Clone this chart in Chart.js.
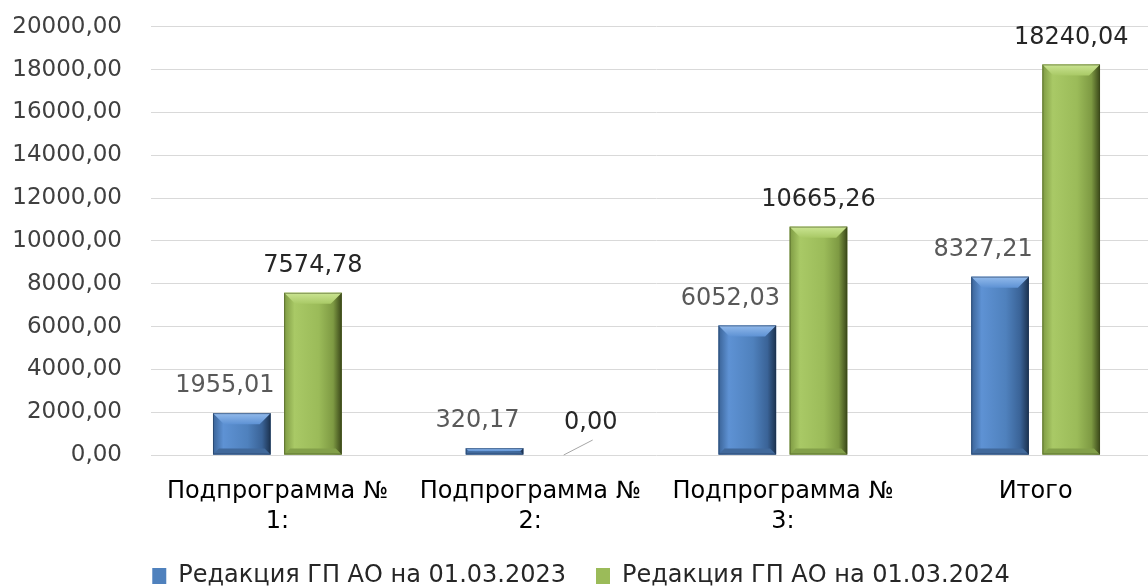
<!DOCTYPE html>
<html>
<head>
<meta charset="utf-8">
<script src="https://cdn.jsdelivr.net/npm/chart.js@4.4.1/dist/chart.umd.min.js"></script>
<style>
  html, body { margin: 0; padding: 0; overflow: hidden; background: #fff; }
  #wrap { width: 1162px; height: 614px; margin-top: -16px; }
</style>
</head>
<body>
<div id="wrap"><canvas id="myChart" width="1162" height="614"></canvas></div>
<script>
const categories = [['Подпрограмма №', '1:'], ['Подпрограмма №', '2:'], ['Подпрограмма №', '3:'], 'Итого'];
const seriesNames = ['Редакция ГП АО на 01.03.2023', 'Редакция ГП АО на 01.03.2024'];
const values2023 = [1955.01, 320.17, 6052.03, 8327.21];
const values2024 = [7574.78, 0.00, 10665.26, 18240.04];
const yMax = 20000;
const yStep = 2000;

const fmt = v => v.toFixed(2).replace('.', ',');

// цвета для "объёмных" столбиков
const palettes = [
    { face: '#4f81bd', light: '#5e92d4', edge: '#3a6397', dark: '#1c324f', top: '#93bbec', bottom: '#41699b' },
    { face: '#9bbb59', light: '#a9c966', edge: '#7e9a43', dark: '#3a4719', top: '#cbe593', bottom: '#83a04a' }
];
const labelColors = ['#595959', '#262626'];
const labelShift = [-17, 0];

const bevelPlugin = {
    id: 'bevel',
    afterDatasetsDraw(chart) {
        const ctx = chart.ctx;
        chart.data.datasets.forEach((ds, di) => {
            const pal = palettes[di];
            chart.getDatasetMeta(di).data.forEach(bar => {
                const { x, y, base, width } = bar.getProps(['x', 'y', 'base', 'width'], true);
                const h = base - y;
                if (h < 1) return;
                const l = x - width / 2, r = x + width / 2;
                const b = Math.min(11, h / 2);
                const bb = Math.min(6, h / 2);
                ctx.save();
                const g = ctx.createLinearGradient(l, 0, r, 0);
                g.addColorStop(0, pal.edge);
                g.addColorStop(0.18, pal.light);
                g.addColorStop(0.6, pal.face);
                g.addColorStop(0.85, pal.edge);
                g.addColorStop(1, pal.dark);
                ctx.fillStyle = g;
                ctx.fillRect(l, y, width, h);

                // верхняя фаска
                const gt = ctx.createLinearGradient(0, y, 0, y + b);
                gt.addColorStop(0, pal.top);
                gt.addColorStop(1, pal.light);
                ctx.fillStyle = gt;
                ctx.beginPath();
                ctx.moveTo(l, y); ctx.lineTo(r, y); ctx.lineTo(r - b, y + b); ctx.lineTo(l + b, y + b);
                ctx.closePath(); ctx.fill();

                // нижняя фаска
                ctx.fillStyle = pal.bottom;
                ctx.beginPath();
                ctx.moveTo(l, base); ctx.lineTo(r, base); ctx.lineTo(r - bb, base - bb); ctx.lineTo(l + bb, base - bb);
                ctx.closePath(); ctx.fill();

                ctx.strokeStyle = pal.dark;
                ctx.globalAlpha = 0.5;
                ctx.lineWidth = 1;
                ctx.strokeRect(l + 0.5, y + 0.5, width - 1, h - 1);
                ctx.restore();
            });
        });
    }
};

const valueLabels = {
    id: 'valueLabels',
    afterDatasetsDraw(chart) {
        const ctx = chart.ctx;
        ctx.save();
        ctx.font = '24px "DejaVu Sans"';
        ctx.textAlign = 'center';
        ctx.textBaseline = 'middle';
        chart.data.datasets.forEach((ds, di) => {
            chart.getDatasetMeta(di).data.forEach((bar, i) => {
                const v = ds.data[i];
                const { x, y, base } = bar.getProps(['x', 'y', 'base'], true);
                ctx.fillStyle = labelColors[di];
                if (v === 0) {
                    ctx.strokeStyle = '#a6a6a6';
                    ctx.lineWidth = 1;
                    ctx.beginPath();
                    ctx.moveTo(x - 2, base);
                    ctx.lineTo(x + 27, base - 15);
                    ctx.stroke();
                    ctx.fillText(fmt(v), x + 25, base - 32);
                } else {
                    ctx.fillText(fmt(v), x + labelShift[di], y - 27);
                }
            });
        });
        ctx.restore();
    }
};

const ctx = document.getElementById('myChart').getContext('2d');
new Chart(ctx, {
    type: 'bar',
    data: {
        labels: categories,
        datasets: [
            { label: seriesNames[0], data: values2023, backgroundColor: '#4f81bd', borderWidth: 0 },
            { label: seriesNames[1], data: values2024, backgroundColor: '#9bbb59', borderWidth: 0 }
        ]
    },
    options: {
        responsive: false,
        animation: false,
        devicePixelRatio: 1,
        categoryPercentage: 0.563,
        barPercentage: 0.81,
        layout: { padding: { top: 10, right: 0, left: 0, bottom: 0 } },
        plugins: {
            legend: {
                position: 'bottom',
                labels: {
                    boxWidth: 14,
                    boxHeight: 16,
                    padding: 30,
                    color: '#262626',
                    font: { family: '"DejaVu Sans"', size: 24 }
                }
            },
            tooltip: { enabled: false }
        },
        scales: {
            x: {
                grid: { display: false },
                border: { display: false },
                ticks: {
                    color: '#000000',
                    padding: 14,
                    maxRotation: 0,
                    autoSkip: false,
                    font: { family: '"DejaVu Sans"', size: 24, lineHeight: 1.25 }
                },
                afterFit(scale) { scale.height = 79; }
            },
            y: {
                min: 0,
                max: yMax,
                grid: { color: '#d9d9d9', drawTicks: false },
                border: { display: false },
                ticks: {
                    stepSize: yStep,
                    padding: 29,
                    color: '#404040',
                    font: { family: '"DejaVu Sans"', size: 23 },
                    callback: v => fmt(v)
                },
                afterFit(scale) { scale.width = 151; }
            }
        }
    },
    plugins: [bevelPlugin, valueLabels]
});
</script>
</body>
</html>
